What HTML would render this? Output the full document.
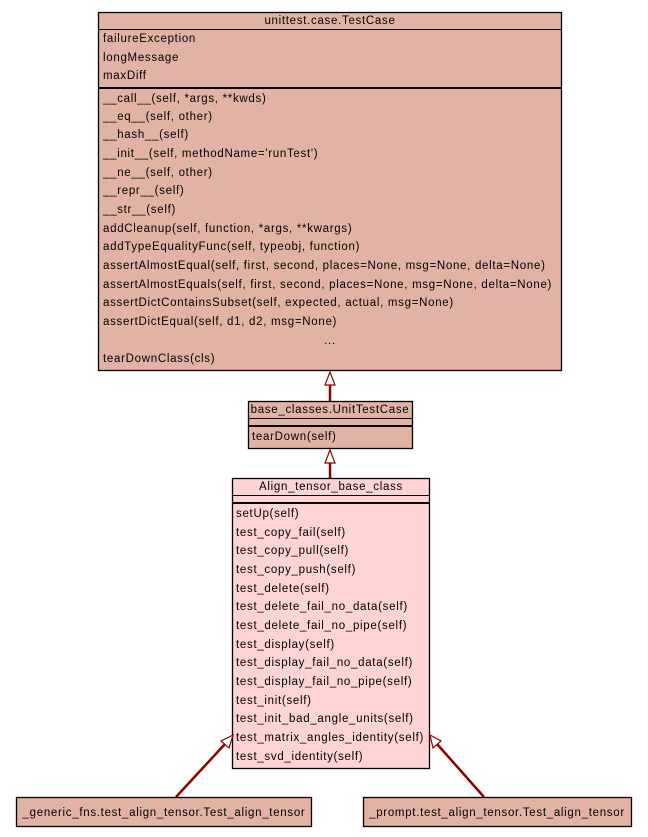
<!DOCTYPE html>
<html><head><meta charset="utf-8"><style>
html,body{margin:0;padding:0;background:#fff;}
svg{display:block;}
text{font-family:"Liberation Sans",sans-serif;font-size:11.5px;letter-spacing:0.7px;fill:#000;}
</style></head><body>
<svg width="648" height="837" viewBox="0 0 648 837" xmlns="http://www.w3.org/2000/svg">
<rect x="0" y="0" width="648" height="837" fill="#ffffff"/>
<rect x="98.5" y="12.5" width="463" height="358" fill="#e2b3a5" stroke="#000" stroke-width="1.3"/>
<line x1="98" y1="29.5" x2="562" y2="29.5" stroke="#000"/>
<line x1="98" y1="88" x2="562" y2="88" stroke="#000" stroke-width="2"/>
<text x="330" y="24" text-anchor="middle">unittest.case.TestCase</text>
<g>
<text x="103" y="42">failureException</text>
<text x="103" y="61">longMessage</text>
<text x="103" y="79">maxDiff</text>
<text x="103" y="102">__call__(self, *args, **kwds)</text>
<text x="103" y="120">__eq__(self, other)</text>
<text x="103" y="138">__hash__(self)</text>
<text x="103" y="157">__init__(self, methodName='runTest')</text>
<text x="103" y="176">__ne__(self, other)</text>
<text x="103" y="194">__repr__(self)</text>
<text x="103" y="213">__str__(self)</text>
<text x="103" y="232">addCleanup(self, function, *args, **kwargs)</text>
<text x="103" y="250">addTypeEqualityFunc(self, typeobj, function)</text>
<text x="103" y="269">assertAlmostEqual(self, first, second, places=None, msg=None, delta=None)</text>
<text x="103" y="288">assertAlmostEquals(self, first, second, places=None, msg=None, delta=None)</text>
<text x="103" y="306">assertDictContainsSubset(self, expected, actual, msg=None)</text>
<text x="103" y="325">assertDictEqual(self, d1, d2, msg=None)</text>
<text x="330" y="344" text-anchor="middle">...</text>
<text x="103" y="362">tearDownClass(cls)</text>
</g>
<line x1="330" y1="385" x2="330" y2="401" stroke="#8b0000" stroke-width="2.5"/>
<polygon points="330,372 325,385 335,385" fill="#fff" stroke="#8b0000" stroke-width="1.2"/>
<rect x="248.5" y="401.5" width="164" height="47" fill="#e2b3a5" stroke="#000" stroke-width="1.3"/>
<line x1="248" y1="418.5" x2="413" y2="418.5" stroke="#000"/>
<line x1="248" y1="426" x2="413" y2="426" stroke="#000" stroke-width="2"/>
<text x="330" y="413" text-anchor="middle">base_classes.UnitTestCase</text>
<text x="252" y="440">tearDown(self)</text>
<line x1="330" y1="463" x2="330" y2="478" stroke="#8b0000" stroke-width="2.5"/>
<polygon points="330,450 325,463 335,463" fill="#fff" stroke="#8b0000" stroke-width="1.2"/>
<rect x="232.5" y="478.5" width="197" height="290" fill="#fdd3d3" stroke="#000" stroke-width="1.3"/>
<line x1="232" y1="495.5" x2="430" y2="495.5" stroke="#000"/>
<line x1="232" y1="503" x2="430" y2="503" stroke="#000" stroke-width="2"/>
<text x="331" y="490" text-anchor="middle">Align_tensor_base_class</text>
<text x="236" y="517">setUp(self)</text>
<text x="236" y="536">test_copy_fail(self)</text>
<text x="236" y="554">test_copy_pull(self)</text>
<text x="236" y="573">test_copy_push(self)</text>
<text x="236" y="592">test_delete(self)</text>
<text x="236" y="610">test_delete_fail_no_data(self)</text>
<text x="236" y="629">test_delete_fail_no_pipe(self)</text>
<text x="236" y="648">test_display(self)</text>
<text x="236" y="666">test_display_fail_no_data(self)</text>
<text x="236" y="685">test_display_fail_no_pipe(self)</text>
<text x="236" y="704">test_init(self)</text>
<text x="236" y="722">test_init_bad_angle_units(self)</text>
<text x="236" y="741">test_matrix_angles_identity(self)</text>
<text x="236" y="760">test_svd_identity(self)</text>
<line x1="176" y1="797" x2="225" y2="744" stroke="#8b0000" stroke-width="2.5"/>
<polygon points="233,735 221,741 229,748" fill="#fff" stroke="#8b0000" stroke-width="1.2"/>
<line x1="484" y1="797" x2="437" y2="744" stroke="#8b0000" stroke-width="2.5"/>
<polygon points="430,735 433,748 441,741" fill="#fff" stroke="#8b0000" stroke-width="1.2"/>
<rect x="16.5" y="797.5" width="295" height="29" fill="#e2b3a5" stroke="#000" stroke-width="1.3"/>
<text x="164" y="816" text-anchor="middle">_generic_fns.test_align_tensor.Test_align_tensor</text>
<rect x="363.5" y="797.5" width="268" height="29" fill="#e2b3a5" stroke="#000" stroke-width="1.3"/>
<text x="497" y="816" text-anchor="middle">_prompt.test_align_tensor.Test_align_tensor</text>
</svg>
</body></html>
